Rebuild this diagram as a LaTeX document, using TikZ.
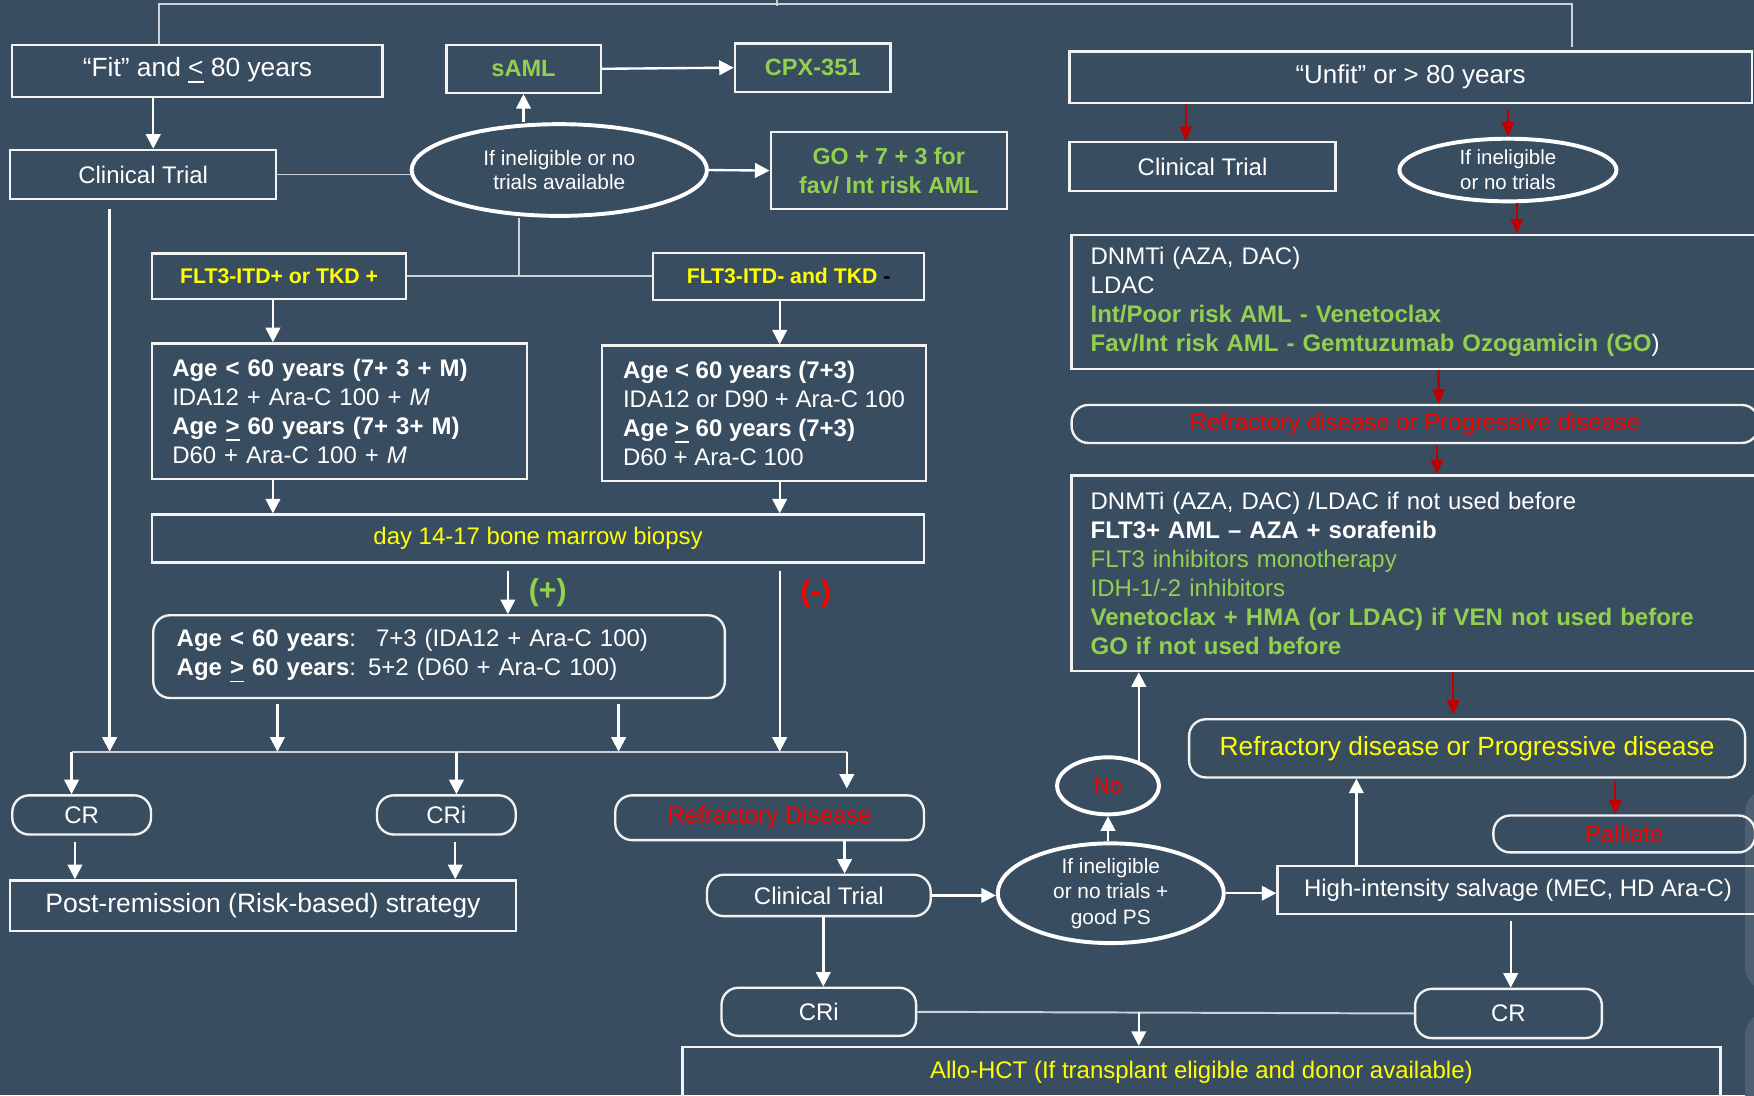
\documentclass[tikz,border=0pt]{standalone}
\usepackage{fontspec}
\setmainfont{Liberation Sans}
\usepackage{tikz}
\usetikzlibrary{arrows.meta, positioning, shapes.geometric}

\definecolor{bgslate}{RGB}{57,77,97}
\definecolor{amlgreen}{RGB}{146,208,80}
\definecolor{amlyellow}{RGB}{255,255,0}
\definecolor{amlred}{RGB}{255,0,0}
\definecolor{arrowred}{RGB}{192,0,0}
\definecolor{linegray}{RGB}{205,210,215}
\definecolor{boxline}{RGB}{242,242,242}
\newcommand{\sz}[2][7.4]{\fontsize{#2}{#1}\selectfont}

\begin{document}
\begin{tikzpicture}[
        box/.style={draw=boxline, line width=0.6pt, inner sep=0pt, text=white, font=\sz{6.1}},
        rbox/.style={box, rounded corners=1.5mm},
        listbox/.style={box, align=left, inner xsep=1.8mm},
        oval/.style={ellipse, draw=white, line width=1pt, inner sep=0pt, text=white, align=center},
        arr/.style={-{Triangle[length=1.3mm, width=1.3mm]}, draw=white, line width=0.6pt},
        rarr/.style={-{Triangle[length=1.3mm, width=1.1mm]}, draw=arrowred, line width=0.6pt},
        link/.style={draw=linegray, line width=0.5pt}
        ]
        \fill[bgslate] (0,0) rectangle (15.68,-9.79);
        \useasboundingbox (0,0) rectangle (15.68,-9.79);
        \clip (0,0) rectangle (15.68,-9.79);
        \fill[bgslate!90!white, rounded corners=2mm] (15.60,-7.06) rectangle (16.2,-8.85);
        \fill[bgslate!90!white, rounded corners=2mm] (15.60,-9.05) rectangle (16.2,-10.2);

        % Fit branch
        \node[box, minimum width=3.31cm, minimum height=0.47cm, font=\sz{6.7}] (fit) at (1.765,-0.635) {“Fit” and \underline{<} 80 years};
        \node[box, minimum width=2.38cm, minimum height=0.44cm] (ct1) at (1.28,-1.56) {Clinical Trial};
        \node[oval, minimum width=2.64cm, minimum height=0.82cm, font={\sz[6.3]{5.3}}] (elig1) at (5.00,-1.52) {If ineligible or no\\trials available};
        \node[box, minimum width=1.38cm, minimum height=0.43cm, text=amlgreen, font=\sz{6}\bfseries] (saml) at (4.68,-0.615) {sAML};
        \node[box, minimum width=1.39cm, minimum height=0.43cm, text=amlgreen, font=\sz{6}\bfseries] (cpx) at (7.265,-0.605) {CPX-351};
        \node[box, minimum width=2.11cm, minimum height=0.69cm, align=center, text=amlgreen, font=\sz{5.9}\bfseries] (go) at (7.945,-1.525) {GO + 7 + 3 for\\fav/ Int risk AML};

        \draw[arr] ([xshift=-3.95mm]fit.south) -- ([xshift=-3.95mm]fit.south |- ct1.north);
        \draw[link] (ct1.east) -- (ct1.east -| elig1.west);
        \draw[arr] (saml.south |- elig1.north) -- (saml.south);
        \draw[arr] (saml.east) -- (cpx.west);
        \draw[arr] (elig1.east) -- (go.west);

        % FLT3 split
        \node[box, minimum width=2.27cm, minimum height=0.41cm, text=amlyellow, font=\sz{5.4}\bfseries] (fltp) at (2.495,-2.47) {FLT3-ITD+ or TKD +};
        \node[box, minimum width=2.42cm, minimum height=0.42cm, text=amlyellow, font=\sz{5.4}\bfseries] (fltm) at (7.05,-2.47) {FLT3-ITD- and TKD {\color{black}-}};
        \draw[link] ([xshift=-3.6mm]elig1.south) -- ([xshift=-3.6mm]elig1.south |- fltp.east);
        \draw[link] (fltp.east) -- (fltm.west);

        \node[listbox, text width=2.99cm, minimum height=1.21cm] (rega) at (3.035,-3.675) {\textbf{Age < 60 years (7+ 3 + M)}\\IDA12 + Ara-C 100 + \textit{M}\\\textbf{Age \underline{>} 60 years (7+ 3+ M)}\\D60 + Ara-C 100 + \textit{M}};
        \node[box, align=left, minimum width=2.90cm, minimum height=1.21cm] (regb) at (6.83,-3.695) {\textbf{Age < 60 years (7+3)}\\IDA12 or D90 + Ara-C 100\\\textbf{Age \underline{>} 60 years (7+3)}\\D60 + Ara-C 100};
        \draw[arr] ([xshift=-0.55mm]fltp.south) -- ([xshift=-0.55mm]fltp.south |- rega.north);
        \draw[arr] ([xshift=-0.8mm]fltm.south) -- ([xshift=-0.8mm]fltm.south |- regb.north);

        \node[box, minimum width=6.90cm, minimum height=0.43cm, text=amlyellow] (biopsy) at (4.81,-4.815) {day 14-17 bone marrow biopsy};
        \draw[arr] ([xshift=-5.95mm]rega.south) -- ([xshift=-5.95mm]rega.south |- biopsy.north);
        \draw[arr] ([xshift=1.4mm]regb.south) -- ([xshift=1.4mm]regb.south |- biopsy.north);

        \node[rbox, listbox, inner xsep=2.1mm, text width=4.69cm, minimum height=0.74cm] (regc) at (3.925,-5.87) {\textbf{Age < 60 years}:~ 7+3 (IDA12 + Ara-C 100)\\\textbf{Age \underline{>} 60 years}: 5+2 (D60 + Ara-C 100)};
        \draw[arr] ([xshift=-2.7mm, yshift=-0.6mm]biopsy.south) -- ([xshift=-2.7mm]biopsy.south |- regc.north)
            node[midway, right, xshift=0.6mm, text=amlgreen, font=\sz{7.7}\bfseries] {(+)};

        % response bus
        \coordinate (busl) at (0.64,-6.72);
        \coordinate (busr) at (7.57,-6.72);
        \draw[arr] ([xshift=-3mm, yshift=-0.8mm]ct1.south) -- ([xshift=-3mm]ct1.south |- busl);
        \draw[arr] ([xshift=-14.45mm, yshift=-0.4mm]regc.south) -- ([xshift=-14.45mm]regc.south |- busl);
        \draw[arr] ([xshift=16.05mm, yshift=-0.4mm]regc.south) -- ([xshift=16.05mm]regc.south |- busl);
        \draw[arr] ([xshift=21.6mm, yshift=-0.6mm]biopsy.south) -- ([xshift=21.6mm]biopsy.south |- busl)
            node[pos=0.13, right, xshift=0.6mm, text=amlred, font=\sz{7.7}\bfseries] {(-)};
        \draw[link] (busl) -- (busr);

        \node[rbox, minimum width=1.24cm, minimum height=0.35cm] (cr1) at (0.73,-7.285) {CR};
        \node[rbox, minimum width=1.24cm, minimum height=0.35cm] (cri1) at (3.99,-7.285) {CRi};
        \node[rbox, minimum width=2.76cm, minimum height=0.40cm, text=amlred] (refr) at (6.88,-7.31) {Refractory Disease};
        \node[box, minimum width=4.52cm, minimum height=0.45cm, font=\sz{6.75}] (post) at (2.35,-8.095) {Post-remission (Risk-based) strategy};
        \draw[arr] (busl) -- (busl |- cr1.north);
        \draw[arr] ([xshift=0.9mm]cri1.north |- busl) -- ([xshift=0.9mm]cri1.north);
        \draw[arr] (busr) -- ([yshift=0.5mm]busr |- refr.north);
        \draw[arr] ([xshift=-0.6mm, yshift=-0.6mm]cr1.south) -- ([xshift=-0.6mm]cr1.south |- post.north);
        \draw[arr] ([xshift=0.8mm, yshift=-0.6mm]cri1.south) -- ([xshift=0.8mm]cri1.south |- post.north);

        % salvage
        \node[rbox, minimum width=2.00cm, minimum height=0.37cm] (ct2) at (7.32,-8.005) {Clinical Trial};
        \node[oval, minimum width=2.02cm, minimum height=0.83cm, font={\sz[6.5]{5.3}}] (elig2) at (9.93,-7.985) {If ineligible\\or no trials +\\good PS};
        \node[oval, minimum width=0.91cm, minimum height=0.51cm, text=amlred, font=\sz{5.5}] (no) at (9.905,-7.025) {No};
        \node[box, minimum width=4.30cm, minimum height=0.43cm] (salv) at (13.57,-7.955) {High-intensity salvage (MEC, HD Ara-C)};
        \node[rbox, minimum width=4.97cm, minimum height=0.52cm, text=amlyellow, font=\sz{6.7}] (rp2) at (13.115,-6.69) {Refractory disease or Progressive disease};
        \node[rbox, minimum width=2.34cm, minimum height=0.33cm, text=amlred] (pall) at (14.52,-7.455) {Palliate};
        \node[rbox, minimum width=1.74cm, minimum height=0.43cm] (cri2) at (7.32,-9.045) {CRi};
        \node[rbox, minimum width=1.67cm, minimum height=0.44cm] (cr2) at (13.485,-9.06) {CR};
        \node[box, minimum width=9.28cm, minimum height=0.46cm, text=amlyellow] (allo) at (10.74,-9.59) {Allo-HCT (If transplant eligible and donor available)};

        \draw[arr] ([xshift=6.7mm]refr.south) -- ([xshift=6.7mm]refr.south |- ct2.north);
        \draw[arr] (ct2.east) -- (ct2.east -| elig2.west);
        \draw[arr] (no.south |- elig2.north) -- (no.south);
        \draw[arr] (elig2.east) -- (elig2.east -| salv.west);
        \draw[arr] ([xshift=-14.45mm]salv.north) -- ([xshift=-14.45mm]salv.north |- rp2.south);
        \draw[rarr] ([xshift=13.25mm, yshift=-0.2mm]rp2.south) -- ([xshift=13.25mm]rp2.south |- pall.north);
        \draw[arr] ([xshift=-0.65mm, yshift=-0.5mm]salv.south) -- ([xshift=-0.65mm]salv.south |- cr2.north);
        \draw[arr] ([xshift=0.4mm]ct2.south) -- ([xshift=0.4mm]ct2.south |- cri2.north);
        \draw[link] (cri2.east) -- (cr2.west);
        \draw[arr] ([xshift=-5.6mm]allo.north |- cri2.east) -- ([xshift=-5.6mm]allo.north);

        % Unfit branch
        \node[box, minimum width=6.10cm, minimum height=0.46cm, font=\sz{6.6}] (unfit) at (12.61,-0.69) {“Unfit” or > 80 years};
        \node[box, minimum width=2.38cm, minimum height=0.44cm] (ct3) at (10.75,-1.49) {Clinical Trial};
        \node[oval, minimum width=1.94cm, minimum height=0.56cm, font={\sz[6.4]{5.2}}] (elig3) at (13.48,-1.52) {If ineligible\\or no trials};
        \node[listbox, inner xsep=1.7mm, text width=5.83cm, minimum height=1.20cm] (dnmt1) at (12.665,-2.70) {DNMTi (AZA, DAC)\\LDAC\\\textcolor{amlgreen}{\textbf{Int/Poor risk AML - Venetoclax}}\\\textbf{\textcolor{amlgreen}{Fav/Int risk AML - Gemtuzumab Ozogamicin (GO}})};
        \node[rbox, minimum width=6.14cm, minimum height=0.34cm, text=amlred] (rp1) at (12.65,-3.79) {Refractory disease or Progressive disease};
        \node[listbox, inner xsep=1.7mm, text width=5.83cm, minimum height=1.75cm] (dnmt2) at (12.665,-5.125) {DNMTi (AZA, DAC) /LDAC if not used before\\\textbf{FLT3+ AML – AZA + sorafenib}\\\textcolor{amlgreen}{FLT3 inhibitors monotherapy}\\\textcolor{amlgreen}{IDH-1/-2 inhibitors}\\\textcolor{amlgreen}{\textbf{Venetoclax + HMA (or LDAC) if VEN not used before}}\\\textcolor{amlgreen}{\textbf{GO if not used before}}};

        \draw[arr] ([xshift=2.75mm, yshift=-0.5mm]no.north) -- ([xshift=2.75mm]no.north |- dnmt2.south);
        \draw[rarr] ([xshift=-1.5mm]ct3.north |- unfit.south) -- ([xshift=-1.5mm]ct3.north);
        \draw[rarr] ([yshift=-0.5mm]elig3.north |- unfit.south) -- (elig3.north);
        \draw[rarr] ([xshift=0.8mm]elig3.south) -- ([xshift=0.8mm]elig3.south |- dnmt1.north);
        \draw[rarr] ([xshift=1.95mm]dnmt1.south) -- ([xshift=1.95mm]dnmt1.south |- rp1.north);
        \draw[rarr] ([xshift=1.95mm, yshift=-0.2mm]rp1.south) -- ([xshift=1.95mm]rp1.south |- dnmt2.north);
        \draw[rarr] ([xshift=3.25mm]dnmt2.south) -- ([xshift=3.25mm, yshift=0.3mm]dnmt2.south |- rp2.north);

        % top connector
        \coordinate (tick) at (6.95,-0.05);
        \draw[link] ([xshift=-3.45mm]fit.north) -- ++(0,0.35) -| ([xshift=14.4mm, yshift=0.3mm]unfit.north);
        \draw[link] (tick) -- ++(0,0.1);
    \end{tikzpicture}
\end{document}
